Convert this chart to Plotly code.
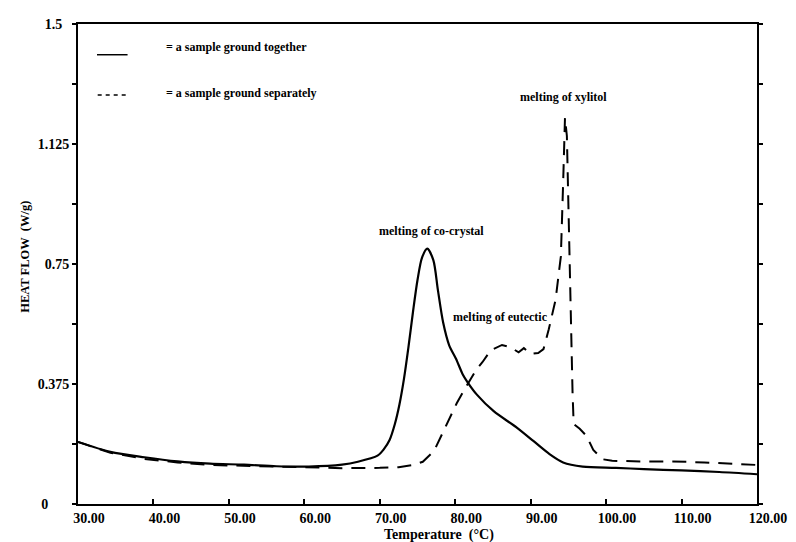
import plotly.graph_objects as go

# Solid: sample ground together
temp_together = [30, 34.3, 38.8, 43.2, 47.5, 52, 56.3, 60.6, 65, 67.1, 69.7, 70.5, 71.3, 72.0,
                 72.6, 73.2, 73.8, 74.4, 75.0, 75.6, 76.3, 77.1, 77.7, 78.4, 79.2, 80.1,
                 81.0, 81.6, 82.9, 85.1, 88.2, 90.35, 92.5, 94.3, 96.9, 101.3, 105, 110,
                 115, 120]
flow_together = [0.194, 0.163, 0.146, 0.133, 0.126, 0.123, 0.118, 0.117, 0.123, 0.132, 0.151,
                 0.170, 0.200, 0.250, 0.310, 0.390, 0.490, 0.600, 0.700, 0.770, 0.798,
                 0.762, 0.669, 0.567, 0.496, 0.454, 0.405, 0.382, 0.341, 0.290, 0.238,
                 0.197, 0.156, 0.130, 0.117, 0.113, 0.109, 0.105, 0.100, 0.093]

# Dashed: sample ground separately
temp_separate = [30, 34.3, 38.8, 43.2, 47.5, 52, 56.3, 60.6, 65, 70, 72.5, 74.5, 75.7, 77.2,
                 78.0, 79.0, 80.2, 81.4, 82.8, 83.6, 84.7, 86.2, 87.3, 88.4, 89.1, 90.0,
                 91.0, 91.7, 92.4, 93.3, 94.0, 94.3, 94.55, 94.8, 95.1, 95.4, 95.55, 95.7,
                 96.5, 97.4, 98.3, 99.5, 100.8, 104.7, 108.8, 113, 117, 120]
flow_separate = [0.194, 0.160, 0.141, 0.130, 0.122, 0.119, 0.116, 0.114, 0.112, 0.113, 0.115,
                 0.122, 0.132, 0.166, 0.205, 0.255, 0.315, 0.365, 0.420, 0.443, 0.480,
                 0.497, 0.490, 0.474, 0.487, 0.469, 0.472, 0.484, 0.546, 0.638, 0.773,
                 1.000, 1.207, 1.150, 0.800, 0.500, 0.350, 0.250, 0.235, 0.213, 0.169,
                 0.140, 0.135, 0.133, 0.133, 0.130, 0.125, 0.122]

x_ticks = [30, 40, 50, 60, 70, 80, 90, 100, 110, 120]
x_tick_labels = ["30.00", "40.00", "50.00", "60.00", "70.00", "80.00", "90.00",
                 "100.00", "110.00", "120.00"]
y_ticks = [0, 0.375, 0.75, 1.125, 1.5]
y_tick_labels = ["0", "0.375", "0.75", "1.125", "1.5"]

peak_labels = ["melting of co-crystal", "melting of eutectic", "melting of xylitol"]
peak_label_x = [76.8, 86.05, 94.3]
peak_label_y = [0.825, 0.555, 1.245]

legend_labels = ["= a sample ground together", "= a sample ground separately"]
x_title = "Temperature  (°C)"
y_title = "HEAT FLOW  (W/g)"

FONT = "Liberation Serif"
NB = "\u00a0"
# right-padding so the y tick labels sit roughly centred in their column
y_pad = {"0": 6, "0.375": 0, "0.75": 0, "1.125": 0, "1.5": 2}
y_tick_text = [t + NB * y_pad[t] for t in y_tick_labels]

fig = go.Figure()
fig.add_trace(go.Scatter(x=temp_together, y=flow_together, mode="lines",
                         line=dict(color="black", width=2.2, shape="spline", smoothing=0.8),
                         showlegend=False))
fig.add_trace(go.Scatter(x=temp_separate, y=flow_separate, mode="lines",
                         line=dict(color="black", width=2, dash="14px,9px"),
                         showlegend=False))

for t, x, y in zip(peak_labels, peak_label_x, peak_label_y):
    fig.add_annotation(x=x, y=y, text=t, showarrow=False, xanchor="center", yanchor="bottom",
                       font=dict(family=FONT, size=12, color="black", weight="bold"))

# legend drawn in paper coordinates
fig.add_shape(type="line", xref="paper", yref="paper", x0=0.028, x1=0.073, y0=0.936, y1=0.936,
              line=dict(color="black", width=1.5))
fig.add_shape(type="line", xref="paper", yref="paper", x0=0.029, x1=0.072, y0=0.852, y1=0.852,
              line=dict(color="black", width=1.5, dash="4px,4px"))
fig.add_annotation(xref="paper", yref="paper", x=0.127, y=0.952, text=legend_labels[0],
                   showarrow=False, xanchor="left", yanchor="middle",
                   font=dict(family=FONT, size=12, color="black", weight="bold"))
fig.add_annotation(xref="paper", yref="paper", x=0.127, y=0.857, text=legend_labels[1],
                   showarrow=False, xanchor="left", yanchor="middle",
                   font=dict(family=FONT, size=12, color="black", weight="bold"))

# axis titles
fig.add_annotation(xref="paper", yref="paper", x=0.532, y=-0.064, text=x_title,
                   showarrow=False, xanchor="center", yanchor="middle",
                   font=dict(family=FONT, size=14, color="black", weight="bold"))
fig.add_annotation(xref="paper", yref="paper", x=-0.078, y=0.515, text=y_title,
                   showarrow=False, xanchor="center", yanchor="middle", textangle=-90,
                   font=dict(family=FONT, size=12.5, color="black", weight="bold"))

fig.update_layout(
    width=788, height=534,
    margin=dict(l=70, r=34, t=9, b=38),
    paper_bgcolor="white", plot_bgcolor="white",
    font=dict(family=FONT, color="black"),
    xaxis=dict(range=[30, 120], tickvals=x_ticks, ticktext=x_tick_labels,
               showgrid=False, zeroline=False, showline=True, linecolor="black", linewidth=2,
               mirror=True, ticks="inside", ticklen=5, tickwidth=1.5, tickcolor="black",
               ticklabelshift=11, ticklabeloverflow="allow",
               tickfont=dict(family=FONT, size=14, color="black", weight="bold")),
    yaxis=dict(range=[0, 1.5], tickvals=y_ticks, ticktext=y_tick_text,
               showgrid=False, zeroline=False, showline=True, linecolor="black", linewidth=2,
               mirror="ticks", ticks="outside", ticklen=4, tickwidth=1.5, tickcolor="black",
               minor=dict(dtick=0.1875, ticks="outside", ticklen=4, tickwidth=1.5,
                          tickcolor="black", showgrid=False),
               tickfont=dict(family=FONT, size=14, color="black", weight="bold")),
)

fig.write_html("out.html")
